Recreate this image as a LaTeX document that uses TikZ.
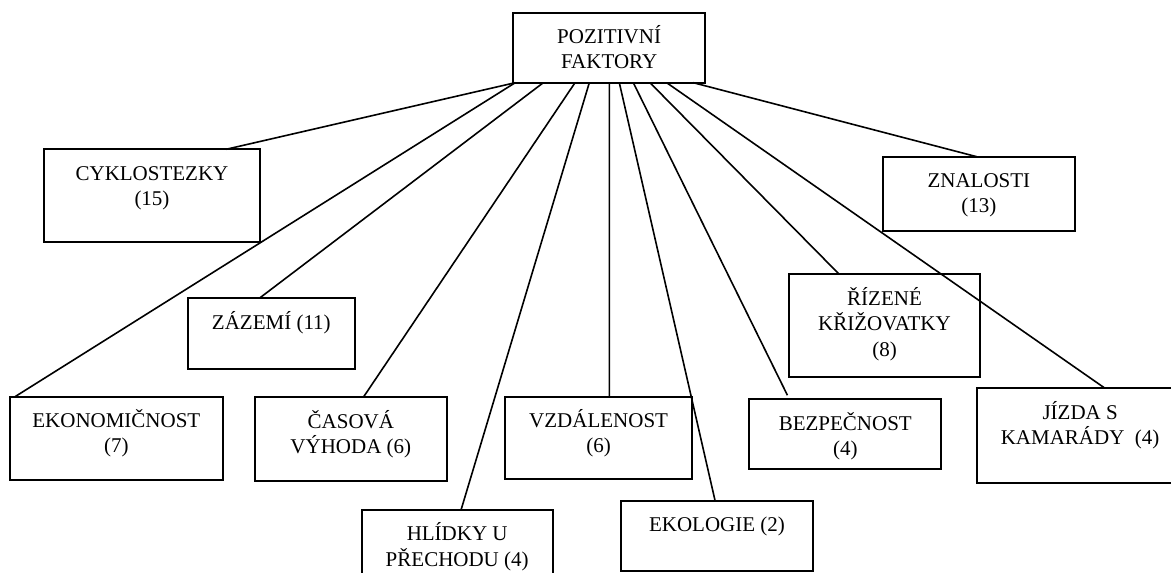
\documentclass[tikz,border=0pt]{standalone}
\usepackage{fontspec}
\setmainfont{Liberation Serif}
\usetikzlibrary{calc}
\newcommand\boxfont{\fontsize{21}{25.5}\selectfont}
\newcommand\boxtext[1]{\begin{tabular}[t]{@{}c@{}}#1\end{tabular}}
\begin{document}
\begin{tikzpicture}[x=1pt,y=-1pt,
  box/.style={draw, line width=2pt, inner xsep=0pt, inner ysep=13.7pt,
    outer sep=0pt, text height=17pt, anchor=north west, font=\boxfont},
  conn/.style={line width=1.6pt}]
\useasboundingbox (0,0) rectangle (1171,573);
\fill[white] (0,0) rectangle (1171,573);
\clip (0,0) rectangle (1171,573);

\node[box, minimum width=191.7pt, text depth=25.6pt] (root) at (513.3,12.7) {\boxtext{POZITIVNÍ\\FAKTORY}};
\node[box, minimum width=216pt, text depth=48pt] (cyk) at (44,149.3) {\boxtext{CYKLOSTEZKY\\(15)}};
\node[box, minimum width=192.3pt, text depth=29.6pt] (zna) at (882.7,156.7) {\boxtext{ZNALOSTI\\(13)}};
\node[box, minimum width=167.3pt, text depth=26.6pt] (zaz) at (187.7,298.3) {\boxtext{ZÁZEMÍ (11)}};
\node[box, minimum width=191pt, text depth=58pt] (riz) at (789,274.3) {\boxtext{ŘÍZENÉ\\KŘIŽOVATKY\\(8)}};
\node[box, minimum width=212.7pt, text depth=38.9pt] (eko) at (10,396.7) {\boxtext{EKONOMIČNOST\\(7)}};
\node[box, minimum width=191.7pt, text depth=39pt] (cas) at (255,397.3) {\boxtext{ČASOVÁ\\VÝHODA (6)}};
\node[box, minimum width=187.3pt, text depth=37.9pt] (vzd) at (505,396.7) {\boxtext{VZDÁLENOST\\(6)}};
\node[box, minimum width=192pt, text depth=25.6pt] (bez) at (749.3,399.3) {\boxtext{BEZPEČNOST\\(4)}};
\node[box, minimum width=205.7pt, text depth=50pt] (jiz) at (977.3,388.3) {\boxtext{JÍZDA S\\KAMARÁDY\ \ (4)}};
\node[box, minimum width=191pt, text depth=25.6pt] (hli) at (361.7,510) {\boxtext{HLÍDKY U\\PŘECHODU (4)}};
\node[box, minimum width=192.6pt, text depth=25.9pt] (ekol) at (620.7,500.7) {\boxtext{EKOLOGIE (2)}};

\draw[conn] ($(root.south west)!0.01!(root.south east)$) -- ($(cyk.north west)!0.843!(cyk.north east)$);
\draw[conn] ($(root.south west)!0.01!(root.south east)$) -- ($(eko.north west)!0.0235!(eko.north east)$);
\draw[conn] ($(root.south west)!0.1565!(root.south east)$) -- ($(zaz.north west)!0.428!(zaz.north east)$);
\draw[conn] ($(root.south west)!0.322!(root.south east)$) -- ($(cas.north west)!0.565!(cas.north east)$);
\draw[conn] ($(root.south west)!0.3965!(root.south east)$) -- ($(hli.north west)!0.52!(hli.north east)$);
\draw[conn] ($(root.south west)!0.501!(root.south east)$) -- ($(vzd.north west)!0.557!(vzd.north east)$);
\draw[conn] ($(root.south west)!0.553!(root.south east)$) -- ($(ekol.north west)!0.49!(ekol.north east)$);
\draw[conn, shorten >=4.5pt] ($(root.south west)!0.626!(root.south east)$) -- ($(bez.north west)!0.209!(bez.north east)$);
\draw[conn] ($(root.south west)!0.713!(root.south east)$) -- ($(riz.north west)!0.263!(riz.north east)$);
\draw[conn] ($(root.south west)!0.8!(root.south east)$) -- ($(jiz.north west)!0.621!(jiz.north east)$);
\draw[conn] ($(root.south west)!0.939!(root.south east)$) -- ($(zna.north west)!0.489!(zna.north east)$);
\end{tikzpicture}
\end{document}
